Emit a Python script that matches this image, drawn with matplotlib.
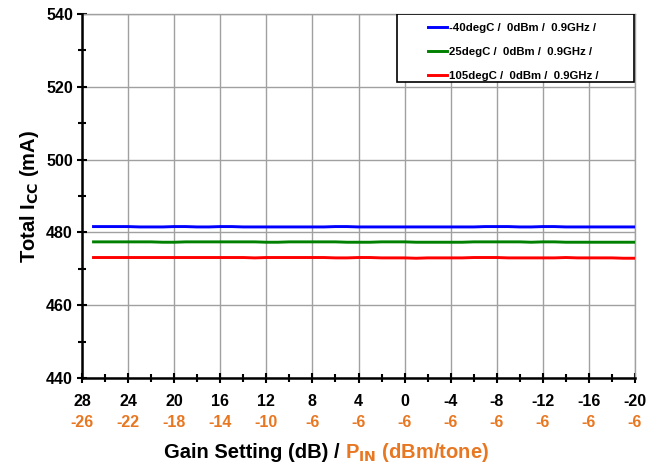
import matplotlib
matplotlib.use("Agg")
import matplotlib.pyplot as plt
from matplotlib.patches import Rectangle
import numpy as np

plt.rcParams.update({
    "font.family": ["Liberation Sans", "DejaVu Sans"],
    "font.weight": "bold",
})

ORANGE = "#E87722"

# data: gain setting (dB) vs total Icc (mA)
gain = list(range(27, -21, -1))
icc_m40 = [481.6, 481.6, 481.6, 481.6, 481.5, 481.5, 481.5, 481.6, 481.6, 481.5,
           481.5, 481.6, 481.6, 481.5, 481.5, 481.5, 481.5, 481.5, 481.5, 481.5,
           481.5, 481.6, 481.6, 481.5, 481.5, 481.5, 481.5, 481.5, 481.5, 481.5,
           481.5, 481.5, 481.5, 481.5, 481.6, 481.6, 481.6, 481.5, 481.5, 481.6,
           481.6, 481.5, 481.5, 481.5, 481.5, 481.5, 481.5, 481.5]
icc_25 = [477.4, 477.4, 477.4, 477.4, 477.4, 477.4, 477.3, 477.3, 477.4, 477.4,
          477.4, 477.4, 477.4, 477.4, 477.4, 477.3, 477.3, 477.4, 477.4, 477.4,
          477.4, 477.4, 477.3, 477.3, 477.3, 477.4, 477.4, 477.4, 477.3, 477.3,
          477.3, 477.3, 477.3, 477.4, 477.4, 477.4, 477.4, 477.4, 477.3, 477.4,
          477.4, 477.3, 477.3, 477.3, 477.3, 477.3, 477.3, 477.3]
icc_105 = [473.1, 473.1, 473.1, 473.1, 473.1, 473.1, 473.1, 473.1, 473.1, 473.1,
           473.1, 473.1, 473.1, 473.1, 473.0, 473.1, 473.1, 473.1, 473.1, 473.1,
           473.1, 473.0, 473.0, 473.1, 473.1, 473.0, 473.0, 473.0, 472.9, 473.0,
           473.0, 473.0, 473.0, 473.1, 473.1, 473.1, 473.0, 473.0, 473.0, 473.0,
           473.0, 473.1, 473.0, 473.0, 473.0, 473.0, 472.9, 472.9]
series_labels = ["-40degC /  0dBm /  0.9GHz /",
                 "25degC /  0dBm /  0.9GHz /",
                 "105degC /  0dBm /  0.9GHz /"]
series_colors = ["#0000FF", "#008000", "#FF0000"]

tick_gain = [28, 24, 20, 16, 12, 8, 4, 0, -4, -8, -12, -16, -20]
tick_pin = [-26, -22, -18, -14, -10, -6, -6, -6, -6, -6, -6, -6, -6]

fig = plt.figure(figsize=(6.58, 4.65), dpi=100)
ax = fig.add_axes([82 / 658, 1 - 378 / 465, (635 - 82) / 658, (378 - 14) / 465])

for ys, lab, col in zip([icc_m40, icc_25, icc_105], series_labels, series_colors):
    ax.plot(gain, ys, color=col, linewidth=2.1, label=lab, zorder=3)

ax.set_xlim(28, -20)
ax.set_ylim(440, 540)
ax.set_xticks(tick_gain)
ax.set_xticks(np.arange(28, -21, -2), minor=True)
ax.set_yticks(np.arange(440, 541, 20))
ax.set_yticks(np.arange(440, 541, 10), minor=True)
ax.set_xticklabels([str(t) for t in tick_gain])
ax.grid(True, which="major", color="#A0A0A0", linewidth=1.0, zorder=0)
ax.set_axisbelow(True)

ax.tick_params(which="both", direction="inout", width=1.5, colors="black")
ax.tick_params(which="major", length=7, labelsize=11.5)
ax.tick_params(which="minor", length=6)
ax.tick_params(axis="x", pad=8)
ax.tick_params(axis="y", pad=3)

for side in ["left", "bottom"]:
    ax.spines[side].set_linewidth(1.8)
    ax.spines[side].set_zorder(4)
for side in ["top", "right"]:
    ax.spines[side].set_color("#A0A0A0")
    ax.spines[side].set_linewidth(1.0)

# second row of x labels: input power
for g, p in zip(tick_gain, tick_pin):
    ax.annotate(str(p), xy=(g, 0), xycoords=("data", "axes fraction"),
                xytext=(0, -32), textcoords="offset points",
                ha="center", va="center", color=ORANGE,
                fontsize=11.5, fontweight="bold")

ax.set_ylabel("Total I$_{\\mathbf{CC}}$ (mA)", fontsize=14.5, fontweight="bold", labelpad=4)

# two-coloured x label
fig.text(345 / 658, 1 - 452 / 465, "Gain Setting (dB) / ", ha="right", va="center",
         fontsize=14.5, fontweight="bold", color="black")
fig.text(345 / 658, 1 - 452 / 465, "P$_{\\mathbf{IN}}$ (dBm/tone)", ha="left", va="center",
         fontsize=14.5, fontweight="bold", color=ORANGE)

# legend box drawn separately, entries without frame
ax.add_patch(Rectangle((315 / 553, 296 / 364), 237 / 553, 68 / 364,
                       transform=ax.transAxes, facecolor="white",
                       edgecolor="black", linewidth=1.2, zorder=5))
leg = ax.legend(loc="upper left", bbox_to_anchor=(346 / 553, 355 / 364), fontsize=8.2,
                frameon=False, handlelength=1.7, handletextpad=0.15, labelspacing=1.25,
                borderpad=0.0, borderaxespad=0.0)
leg.set_zorder(6)

fig.savefig("out.png", dpi=100)
